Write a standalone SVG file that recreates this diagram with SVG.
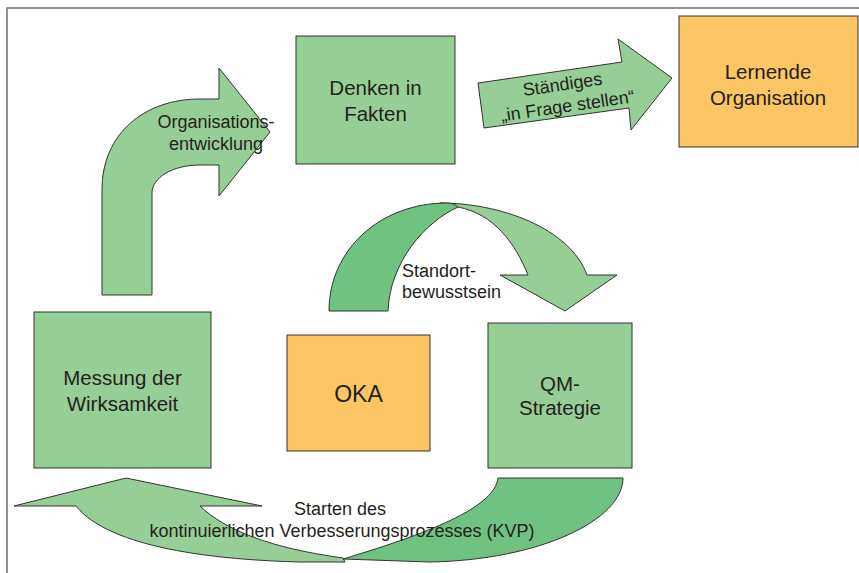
<svg xmlns="http://www.w3.org/2000/svg" width="859" height="573" viewBox="0 0 859 573">
  <style>
    .frame { fill: none; stroke: #6f6f6f; stroke-width: 1.5; }
    .box-g { fill: #95cf95; stroke: #333; stroke-width: 1; }
    .box-o { fill: #fbc663; stroke: #333; stroke-width: 1; }
    .arr-l { fill: #95cf95; stroke: #333; stroke-width: 1; stroke-linejoin: miter; }
    .arr-d { fill: #6fc27f; stroke: #333; stroke-width: 1; }
    .lbl { font-family: "Liberation Sans", Arial, sans-serif; fill: #231f20; text-anchor: middle; }
    .big { font-size: 20.5px; }
    .sm { font-size: 18px; }
  </style>
  <rect width="859" height="573" fill="#ffffff"/>
  <path class="frame" d="M7,573 L7,8 L859,8"/>

  <g id="connectors">
    <!-- bent arrow: Messung der Wirksamkeit up and over to Denken in Fakten -->
    <g id="arrow-organisationsentwicklung">
      <path class="arr-l" d="M102,295 L102,190 C102,133 145,99 200,99 L219,99 L219,68 L270,132 L219,196 L219,165 L200,165 C172,165 152,178 152,193 L152,295 Z"/>
      <text class="lbl sm" x="216" y="128">Organisations-</text>
      <text class="lbl sm" x="216" y="150">entwicklung</text>
    </g>

    <!-- tilted arrow: Denken in Fakten to Lernende Organisation -->
    <g id="arrow-hinterfragen">
      <path class="arr-l" d="M478,83 L622,62 L618,39 L672,78 L631,130 L629,108 L484,128 Z"/>
      <g transform="rotate(-8.3 566 95)">
        <text class="lbl sm" x="564" y="90">Ständiges</text>
        <text class="lbl sm" x="566" y="112">„in Frage stellen“</text>
      </g>
    </g>

    <!-- arc arrow over OKA down into QM-Strategie -->
    <g id="arrow-standort">
      <path class="arr-l" d="M440,203 C500,203 570,228 587,275 L617,275 L565,311 L500,275 L528,275 C515,243 494,214 458,207 Z"/>
      <path class="arr-d" d="M329,311 C329,250 380,203 447,203 C452,203 456,205 458,207 C425,222 390,262 388,311 Z"/>
      <text class="lbl sm" x="402" y="277" style="text-anchor:start">Standort-</text>
      <text class="lbl sm" x="402" y="298" style="text-anchor:start">bewusstsein</text>
    </g>

    <!-- sweeping arrow under the boxes: QM-Strategie back to Messung der Wirksamkeit -->
    <g id="arrow-kvp">
      <path class="arr-l" d="M76,506 L14,506 L126,478 L262,506 L200,506 C225,530 270,548 343,558 L345,562 L300,562 C150,558 95,530 76,506 Z"/>
      <path class="arr-d" d="M498,478 L623,478 C623,520 540,560 430,562 L343,559 C440,530 495,505 498,478 Z"/>
      <text class="lbl sm" x="340" y="515">Starten des</text>
      <text class="lbl sm" x="342" y="537">kontinuierlichen Verbesserungsprozesses (KVP)</text>
    </g>
  </g>

  <g id="node-denken">
    <rect class="box-g" x="296" y="36" width="159" height="128"/>
    <text class="lbl big" x="375.5" y="95">Denken in</text>
    <text class="lbl big" x="375.5" y="121">Fakten</text>
  </g>

  <g id="node-lernende">
    <rect class="box-o" x="679" y="16" width="179" height="131"/>
    <text class="lbl big" x="768" y="79">Lernende</text>
    <text class="lbl big" x="768" y="105">Organisation</text>
  </g>

  <g id="node-messung">
    <rect class="box-g" x="34" y="312" width="177" height="156"/>
    <text class="lbl big" x="122.5" y="385">Messung der</text>
    <text class="lbl big" x="122.5" y="411">Wirksamkeit</text>
  </g>

  <g id="node-oka">
    <rect class="box-o" x="287" y="335" width="143" height="116"/>
    <text class="lbl" x="358.5" y="402" style="font-size:23px">OKA</text>
  </g>

  <g id="node-qm">
    <rect class="box-g" x="488" y="323" width="144" height="145"/>
    <text class="lbl big" x="560" y="391">QM-</text>
    <text class="lbl big" x="560" y="415">Strategie</text>
  </g>
</svg>
